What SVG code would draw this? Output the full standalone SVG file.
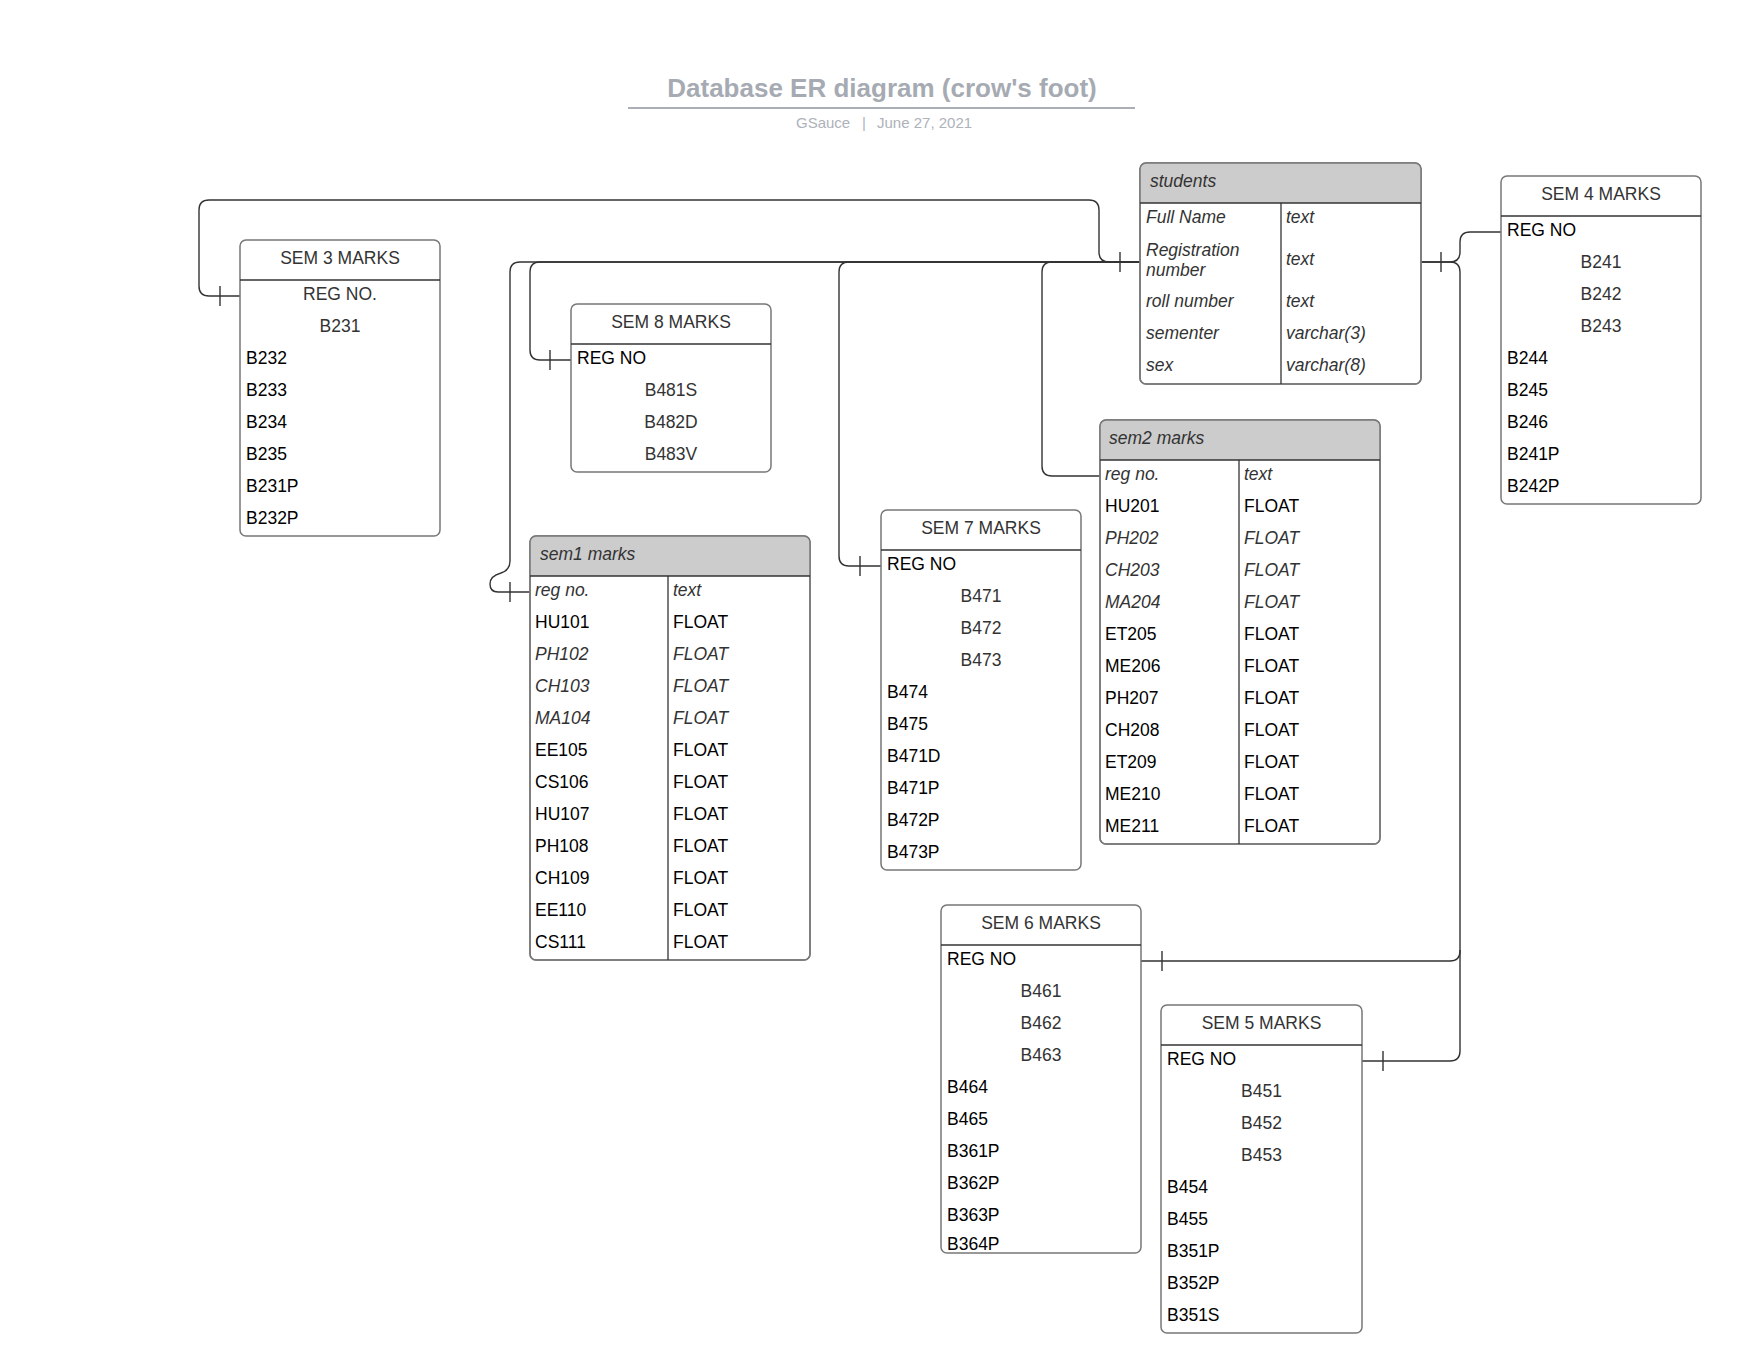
<svg xmlns="http://www.w3.org/2000/svg" width="1760" height="1360" viewBox="0 0 1760 1360">
<style>
.box{fill:#fff;stroke:#777;stroke-width:1.5}
.out{fill:none;stroke:#777;stroke-width:1.5}
.hdr{fill:#ccc}
.sep{stroke:#333;stroke-width:1.3}
.t{font-family:"Liberation Sans",Arial,sans-serif;font-size:17.5px}
.k{fill:#000}
.g{fill:#333}
.i{fill:#333;font-style:italic}
.c{text-anchor:middle}
.conn{fill:none;stroke:#333;stroke-width:1.4}
.ttl{font-family:"Liberation Sans",Arial,sans-serif;font-size:26px;font-weight:bold;fill:#a6abb3}
.sub{font-family:"Liberation Sans",Arial,sans-serif;font-size:15px;fill:#aeb2b9}
</style>
<rect width="1760" height="1360" fill="#fff"/>

<g id="title">
<text class="ttl" x="882" y="97" text-anchor="middle">Database ER diagram (crow's foot)</text>
<line x1="628" y1="108" x2="1135" y2="108" stroke="#a9aeb7" stroke-width="2"/>
<text class="sub" y="128"><tspan x="796">GSauce</tspan><tspan x="862">|</tspan><tspan x="877">June 27, 2021</tspan></text>
</g>

<g id="connectors">
<path class="conn" d="M1140,262 H1109 Q1099,262 1099,252 V210 Q1099,200 1089,200 H209 Q199,200 199,210 V286 Q199,296 209,296 H240"/>
<path class="conn" d="M1140,262 H540 Q530,262 530,272 V350 Q530,360 540,360 H571"/>
<path class="conn" d="M1140,262 H520 Q510,262 510,272 V561 Q510,570 501,573 Q490,576 490,584 Q490,592 498,592 H530"/>
<path class="conn" d="M1140,262 H849 Q839,262 839,272 V556 Q839,566 849,566 H881"/>
<path class="conn" d="M1140,262 H1052 Q1042,262 1042,272 V466 Q1042,476 1052,476 H1100"/>
<path class="conn" d="M1421,262 H1450 Q1460,262 1460,252 V242 Q1460,232 1470,232 H1501"/>
<path class="conn" d="M1421,262 H1450 Q1460,262 1460,272 V951 Q1460,961 1450,961 H1141"/>
<path class="conn" d="M1460,950 V1051 Q1460,1061 1450,1061 H1362"/>
<g class="conn">
<line x1="220" y1="286" x2="220" y2="306"/>
<line x1="550" y1="350" x2="550" y2="370"/>
<line x1="510" y1="582" x2="510" y2="602"/>
<line x1="860" y1="556" x2="860" y2="576"/>
<line x1="1120" y1="252" x2="1120" y2="272"/>
<line x1="1441" y1="252" x2="1441" y2="272"/>
<line x1="1162" y1="951" x2="1162" y2="971"/>
<line x1="1383" y1="1051" x2="1383" y2="1071"/>
</g>
</g>

<g id="sem3">
<rect class="box" x="240" y="240" width="200" height="296" rx="6"/>
<line class="sep" x1="240" y1="280" x2="440" y2="280"/>
<g class="t">
<text class="g c" x="340" y="264">SEM 3 MARKS</text>
<text class="g c" x="340" y="300">REG NO.</text>
<text class="g c" x="340" y="332">B231</text>
<text class="k" x="246" y="364">B232</text>
<text class="k" x="246" y="396">B233</text>
<text class="k" x="246" y="428">B234</text>
<text class="k" x="246" y="460">B235</text>
<text class="k" x="246" y="492">B231P</text>
<text class="k" x="246" y="524">B232P</text>
</g>
</g>

<g id="sem8">
<rect class="box" x="571" y="304" width="200" height="168" rx="6"/>
<line class="sep" x1="571" y1="344" x2="771" y2="344"/>
<g class="t">
<text class="g c" x="671" y="328">SEM 8 MARKS</text>
<text class="k" x="577" y="364">REG NO</text>
<text class="g c" x="671" y="396">B481S</text>
<text class="g c" x="671" y="428">B482D</text>
<text class="g c" x="671" y="460">B483V</text>
</g>
</g>

<g id="sem7">
<rect class="box" x="881" y="510" width="200" height="360" rx="6"/>
<line class="sep" x1="881" y1="550" x2="1081" y2="550"/>
<g class="t">
<text class="g c" x="981" y="534">SEM 7 MARKS</text>
<text class="k" x="887" y="570">REG NO</text>
<text class="g c" x="981" y="602">B471</text>
<text class="g c" x="981" y="634">B472</text>
<text class="g c" x="981" y="666">B473</text>
<text class="k" x="887" y="698">B474</text>
<text class="k" x="887" y="730">B475</text>
<text class="k" x="887" y="762">B471D</text>
<text class="k" x="887" y="794">B471P</text>
<text class="k" x="887" y="826">B472P</text>
<text class="k" x="887" y="858">B473P</text>
</g>
</g>

<g id="sem6">
<rect class="box" x="941" y="905" width="200" height="348" rx="6"/>
<line class="sep" x1="941" y1="945" x2="1141" y2="945"/>
<g class="t">
<text class="g c" x="1041" y="929">SEM 6 MARKS</text>
<text class="k" x="947" y="965">REG NO</text>
<text class="g c" x="1041" y="997">B461</text>
<text class="g c" x="1041" y="1029">B462</text>
<text class="g c" x="1041" y="1061">B463</text>
<text class="k" x="947" y="1093">B464</text>
<text class="k" x="947" y="1125">B465</text>
<text class="k" x="947" y="1157">B361P</text>
<text class="k" x="947" y="1189">B362P</text>
<text class="k" x="947" y="1221">B363P</text>
<text class="k" x="947" y="1249.5">B364P</text>
</g>
</g>

<g id="sem5">
<rect class="box" x="1161" y="1005" width="201" height="328" rx="6"/>
<line class="sep" x1="1161" y1="1045" x2="1362" y2="1045"/>
<g class="t">
<text class="g c" x="1261.5" y="1029">SEM 5 MARKS</text>
<text class="k" x="1167" y="1065">REG NO</text>
<text class="g c" x="1261.5" y="1097">B451</text>
<text class="g c" x="1261.5" y="1129">B452</text>
<text class="g c" x="1261.5" y="1161">B453</text>
<text class="k" x="1167" y="1193">B454</text>
<text class="k" x="1167" y="1225">B455</text>
<text class="k" x="1167" y="1257">B351P</text>
<text class="k" x="1167" y="1289">B352P</text>
<text class="k" x="1167" y="1321">B351S</text>
</g>
</g>

<g id="sem4">
<rect class="box" x="1501" y="176" width="200" height="328" rx="6"/>
<line class="sep" x1="1501" y1="216" x2="1701" y2="216"/>
<g class="t">
<text class="g c" x="1601" y="200">SEM 4 MARKS</text>
<text class="k" x="1507" y="236">REG NO</text>
<text class="g c" x="1601" y="268">B241</text>
<text class="g c" x="1601" y="300">B242</text>
<text class="g c" x="1601" y="332">B243</text>
<text class="k" x="1507" y="364">B244</text>
<text class="k" x="1507" y="396">B245</text>
<text class="k" x="1507" y="428">B246</text>
<text class="k" x="1507" y="460">B241P</text>
<text class="k" x="1507" y="492">B242P</text>
</g>
</g>

<g id="students">
<rect class="box" x="1140" y="163" width="281" height="221" rx="6"/>
<path class="hdr" d="M1140,203 V169 Q1140,163 1146,163 H1415 Q1421,163 1421,169 V203 Z"/>
<rect class="out" x="1140" y="163" width="281" height="221" rx="6"/>
<line class="sep" x1="1140" y1="203" x2="1421" y2="203"/>
<line class="sep" x1="1281" y1="203" x2="1281" y2="384"/>
<g class="t i">
<text x="1150" y="187">students</text>
<text x="1146" y="223">Full Name</text>
<text x="1146" y="256">Registration</text>
<text x="1146" y="276">number</text>
<text x="1146" y="307">roll number</text>
<text x="1146" y="339">sementer</text>
<text x="1146" y="371">sex</text>
<text x="1286" y="223">text</text>
<text x="1286" y="265">text</text>
<text x="1286" y="307">text</text>
<text x="1286" y="339">varchar(3)</text>
<text x="1286" y="371">varchar(8)</text>
</g>
</g>

<g id="sem2">
<rect class="box" x="1100" y="420" width="280" height="424" rx="6"/>
<path class="hdr" d="M1100,460 V426 Q1100,420 1106,420 H1374 Q1380,420 1380,426 V460 Z"/>
<rect class="out" x="1100" y="420" width="280" height="424" rx="6"/>
<line class="sep" x1="1100" y1="460" x2="1380" y2="460"/>
<line class="sep" x1="1239" y1="460" x2="1239" y2="844"/>
<g class="t">
<text class="i" x="1109" y="444">sem2 marks</text>
<text class="i" x="1105" y="480">reg no.</text><text class="i" x="1244" y="480">text</text>
<text class="k" x="1105" y="512">HU201</text><text class="k" x="1244" y="512">FLOAT</text>
<text class="i" x="1105" y="544">PH202</text><text class="i" x="1244" y="544">FLOAT</text>
<text class="i" x="1105" y="576">CH203</text><text class="i" x="1244" y="576">FLOAT</text>
<text class="i" x="1105" y="608">MA204</text><text class="i" x="1244" y="608">FLOAT</text>
<text class="k" x="1105" y="640">ET205</text><text class="k" x="1244" y="640">FLOAT</text>
<text class="k" x="1105" y="672">ME206</text><text class="k" x="1244" y="672">FLOAT</text>
<text class="k" x="1105" y="704">PH207</text><text class="k" x="1244" y="704">FLOAT</text>
<text class="k" x="1105" y="736">CH208</text><text class="k" x="1244" y="736">FLOAT</text>
<text class="k" x="1105" y="768">ET209</text><text class="k" x="1244" y="768">FLOAT</text>
<text class="k" x="1105" y="800">ME210</text><text class="k" x="1244" y="800">FLOAT</text>
<text class="k" x="1105" y="832">ME211</text><text class="k" x="1244" y="832">FLOAT</text>
</g>
</g>

<g id="sem1">
<rect class="box" x="530" y="536" width="280" height="424" rx="6"/>
<path class="hdr" d="M530,576 V542 Q530,536 536,536 H804 Q810,536 810,542 V576 Z"/>
<rect class="out" x="530" y="536" width="280" height="424" rx="6"/>
<line class="sep" x1="530" y1="576" x2="810" y2="576"/>
<line class="sep" x1="668" y1="576" x2="668" y2="960"/>
<g class="t">
<text class="i" x="540" y="560">sem1 marks</text>
<text class="i" x="535" y="596">reg no.</text><text class="i" x="673" y="596">text</text>
<text class="k" x="535" y="628">HU101</text><text class="k" x="673" y="628">FLOAT</text>
<text class="i" x="535" y="660">PH102</text><text class="i" x="673" y="660">FLOAT</text>
<text class="i" x="535" y="692">CH103</text><text class="i" x="673" y="692">FLOAT</text>
<text class="i" x="535" y="724">MA104</text><text class="i" x="673" y="724">FLOAT</text>
<text class="k" x="535" y="756">EE105</text><text class="k" x="673" y="756">FLOAT</text>
<text class="k" x="535" y="788">CS106</text><text class="k" x="673" y="788">FLOAT</text>
<text class="k" x="535" y="820">HU107</text><text class="k" x="673" y="820">FLOAT</text>
<text class="k" x="535" y="852">PH108</text><text class="k" x="673" y="852">FLOAT</text>
<text class="k" x="535" y="884">CH109</text><text class="k" x="673" y="884">FLOAT</text>
<text class="k" x="535" y="916">EE110</text><text class="k" x="673" y="916">FLOAT</text>
<text class="k" x="535" y="948">CS111</text><text class="k" x="673" y="948">FLOAT</text>
</g>
</g>
</svg>
